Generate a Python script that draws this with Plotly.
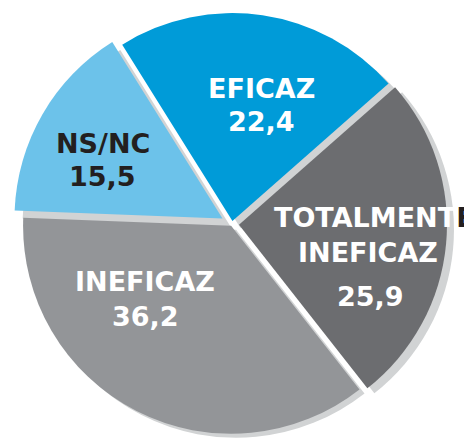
import math
import plotly.graph_objects as go

# Survey shares (%)
categories = ["EFICAZ", "TOTALMENTE INEFICAZ", "INEFICAZ", "NS/NC"]
values = [22.4, 25.9, 36.2, 15.5]

# Styling
slice_colors = ["#009bd8", "#6c6d70", "#939598", "#6cc2ea"]
shadow_color = "#d1d3d4"
text_colors = ["#ffffff", "#ffffff", "#ffffff", "#231f20"]
explode_px = [3, 7, 2, 11]                          # how far each slice is pushed out
shadow_offsets = [(8, 7), (7, 5), (5, 4), (8, 8)]   # drop shadow shift per slice (right, down)

W, H = 464, 439
CX, CY, R = 232, 224, 208            # pie centre / radius in pixels
ROTATION = -32                       # start angle, clockwise from 12 o'clock

total = sum(values)


def bisector(i):
    start = ROTATION + 360 * sum(values[:i]) / total
    return math.radians(start + 180 * values[i] / total)


def domain(cx, cy):
    x0 = max(0.0, (cx - R) / W)
    x1 = min(1.0, (cx + R) / W)
    y0 = max(0.0, (H - cy - R) / H)
    y1 = min(1.0, (H - cy + R) / H)
    return dict(x=[x0, x1], y=[y0, y1])


def slice_trace(i, cx, cy, color):
    cols = ["rgba(0,0,0,0)"] * len(values)
    cols[i] = color
    return go.Pie(
        labels=categories,
        values=values,
        sort=False,
        direction="clockwise",
        rotation=ROTATION,
        marker=dict(colors=cols, line=dict(width=0)),
        textinfo="none",
        hoverinfo="skip",
        showlegend=False,
        domain=domain(cx, cy),
    )


fig = go.Figure()
centres = []
for i in range(len(values)):
    a = bisector(i)
    centres.append((CX + explode_px[i] * math.sin(a), CY - explode_px[i] * math.cos(a)))

# shadows first, then the coloured slices on top
for i, (cx, cy) in enumerate(centres):
    sx, sy = shadow_offsets[i]
    fig.add_trace(slice_trace(i, cx + sx, cy + sy, shadow_color))
for i, (cx, cy) in enumerate(centres):
    fig.add_trace(slice_trace(i, cx, cy, slice_colors[i]))


def fmt(v):
    return f"{v:.1f}".replace(".", ",")


FONT = "DejaVu Sans"
SIZE = 27

# label placement (pixel centres): name line(s), value line
name_pos = [(261, 88), (272, 218), (145, 281), (103, 143)]
value_pos = [(261, 122), (370, 296), (145, 316), (102, 176)]

annotations = []
for i, cat in enumerate(categories):
    col = text_colors[i]
    if cat == "TOTALMENTE INEFICAZ":
        first, second = cat.split(" ")
        annotations.append(dict(
            x=name_pos[i][0] / W, y=1 - name_pos[i][1] / H,
            xanchor="left", yanchor="middle",
            text=f"{first[:-1]}<span style='color:#231f20'>{first[-1]}</span>",
        ))
        annotations.append(dict(
            x=368 / W, y=1 - 252 / H, xanchor="center", yanchor="middle",
            text=second,
        ))
    else:
        annotations.append(dict(
            x=name_pos[i][0] / W, y=1 - name_pos[i][1] / H,
            xanchor="center", yanchor="middle", text=cat,
            font=dict(color=col, family=FONT, size=SIZE),
        ))
    annotations.append(dict(
        x=value_pos[i][0] / W, y=1 - value_pos[i][1] / H,
        xanchor="center", yanchor="middle", text=fmt(values[i]),
        font=dict(color=col, family=FONT, size=SIZE),
    ))

for a in annotations:
    a.setdefault("font", dict(color="#ffffff", family=FONT, size=SIZE))
    a["showarrow"] = False
    a["xref"] = "paper"
    a["yref"] = "paper"
    a["text"] = f"<b>{a['text']}</b>"

fig.update_layout(
    width=W, height=H,
    margin=dict(l=0, r=0, t=0, b=0),
    paper_bgcolor="white",
    plot_bgcolor="white",
    annotations=annotations,
    showlegend=False,
)

fig.write_html("out.html")
